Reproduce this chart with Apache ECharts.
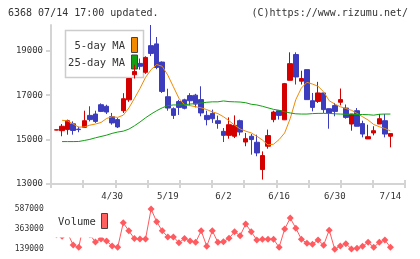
<!DOCTYPE html>
<html>
<head>
<meta charset="utf-8">
<script src="https://cdn.jsdelivr.net/npm/echarts@6/dist/echarts.min.js"></script>
<style>
html, body { margin: 0; padding: 0; background: #fff; }
#main { width: 420px; height: 259px; }
</style>
</head>
<body>
<div id="main"></div>
<script>
// trading days shown on the chart
var dates = ['4/15', '4/16', '4/17', '4/18', '4/21', '4/22', '4/23', '4/24', '4/25', '4/28',
  '4/30', '5/1', '5/2', '5/7', '5/8', '5/9', '5/12', '5/13', '5/14', '5/15',
  '5/19', '5/20', '5/21', '5/22', '5/23', '5/26', '5/27', '5/28', '5/29', '5/30',
  '6/2', '6/3', '6/4', '6/5', '6/6', '6/9', '6/10', '6/11', '6/12', '6/13',
  '6/16', '6/17', '6/18', '6/19', '6/20', '6/23', '6/24', '6/25', '6/26', '6/27',
  '6/30', '7/1', '7/2', '7/3', '7/4', '7/7', '7/8', '7/9', '7/10', '7/11',
  '7/14']
var dateLabels = ['4/30', '5/19', '6/2', '6/16', '6/30', '7/14']

var openP = [15430, 15400, 15450, 15710, 15470, 15550, 16090, 16150, 16570, 16500,
  16030, 15900, 16300, 16790, 17920, 18430, 18030, 19230, 19310, 18490,
  16930, 16390, 16710, 16790, 16980, 17000, 16800, 16090, 16180, 15850,
  15370, 15190, 15150, 15850, 14890, 15150, 14880, 13650, 14700, 15900,
  16300, 15890, 17670, 18830, 17630, 18150, 16750, 16720, 17100, 16390,
  16530, 16680, 16420, 15700, 16300, 15720, 15030, 15300, 15700, 15850,
  15150]
var closeP = [15440, 15600, 15850, 15410, 15450, 15850, 15900, 15820, 16270, 16240,
  15750, 15570, 16840, 17750, 18070, 18300, 18700, 18880, 18250, 17170,
  16420, 16090, 16450, 16410, 16750, 16600, 16200, 15900, 15940, 15730,
  15190, 15670, 15640, 15340, 15040, 15000, 14400, 14280, 15180, 16240,
  16090, 17520, 18420, 17820, 17750, 16800, 16450, 17100, 16350, 16200,
  16270, 16800, 16000, 16150, 15600, 15250, 15130, 15400, 15940, 15250,
  15270]
var lowP = [15420, 15150, 15220, 15220, 15330, 15520, 15820, 15750, 16240, 16150,
  15670, 15520, 16200, 16700, 17750, 18150, 17960, 18760, 18170, 17100,
  16300, 15930, 16110, 16360, 16510, 16450, 16050, 15640, 15750, 15490,
  14890, 15040, 15070, 15190, 14700, 14320, 14250, 13200, 14590, 15780,
  15900, 15880, 17670, 17480, 17480, 16800, 16270, 16650, 16200, 15490,
  16050, 16540, 15940, 15400, 15600, 15100, 15030, 15190, 15700, 15100,
  14650]
var highP = [15450, 15700, 15900, 15820, 15580, 16300, 16500, 16300, 16630, 16570,
  16200, 15970, 17090, 17760, 18370, 18650, 18750, 20160, 19620, 18520,
  17290, 16450, 16790, 16840, 17090, 17060, 17400, 16300, 16350, 16080,
  15520, 16000, 16090, 15900, 15300, 15250, 15220, 14470, 15450, 16300,
  16300, 17550, 18930, 18930, 18100, 18150, 17100, 17600, 17100, 16400,
  16650, 17300, 16580, 16150, 16420, 15850, 15670, 15600, 16150, 16150,
  15270]

var ma5 = [null, 15870, 15840, 15700, 15560, 15570, 15650, 15700, 15770, 15950,
  16030, 16000, 16100, 16420, 16850, 17300, 17800, 18150, 18380, 18300,
  17900, 17380, 16860, 16560, 16530, 16480, 16430, 16350, 16250, 16170,
  16030, 15850, 15650, 15480, 15380, 15300, 15150, 14980, 14760, 14790,
  15000, 15300, 15950, 16800, 17320, 17580, 17500, 17400, 17150, 16750,
  16600, 16480, 16400, 16320, 16180, 16030, 15880, 15680, 15580, 15500,
  15390]
var ma25 = [null, 14910, 14910, 14910, 14915, 14960, 15010, 15080, 15140, 15200,
  15280, 15340, 15380, 15470, 15620, 15790, 15980, 16150, 16300, 16430,
  16530, 16560, 16560, 16570, 16600, 16620, 16650, 16680, 16700, 16700,
  16740, 16710, 16700, 16690, 16660, 16590, 16560, 16500, 16430, 16360,
  16320, 16250, 16200, 16160, 16150, 16150, 16170, 16180, 16180, 16180,
  16160, 16150, 16140, 16140, 16130, 16130, 16120, 16100, 16140, 16150,
  16150]

var volume = [300000, 285000, 318000, 187000, 161000, 450000, 300000, 221000, 254000, 232000,
  176000, 161000, 433000, 344000, 258000, 254000, 254000, 587000, 445000, 344000,
  277000, 277000, 213000, 258000, 232000, 217000, 344000, 173000, 344000, 217000,
  224000, 262000, 333000, 291000, 420000, 333000, 243000, 251000, 251000, 251000,
  161000, 364000, 486000, 374000, 252000, 206000, 196000, 243000, 185000, 352000,
  139000, 176000, 201000, 142000, 151000, 173000, 217000, 161000, 217000, 243000,
  161000]

var priceTicks = [13000, 15000, 17000, 19000]
var volumeTicks = [139000, 363000, 587000]

var mono = 'DejaVu Sans Mono'
var axisGrey = '#d4d4d4'
var upColor = '#d40000'
var downColor = '#3c3cbe'

var chart = echarts.init(document.getElementById('main'), null, { renderer: 'canvas' })

var kData = []
for (var i = 0; i < dates.length; i++) {
  kData.push([openP[i], closeP[i], lowP[i], highP[i]])
}

function plain(v) {
  return String(v)
}

var option = {
  animation: false,
  backgroundColor: '#ffffff',
  grid: [
    { left: 51, right: 15, top: 25, bottom: 75 },      // frame
    { left: 53.7, right: 26.8, top: 25, bottom: 75 },  // candles
    { left: 53.7, right: 26.8, top: 209, bottom: 9.7 } // volume
  ],
  xAxis: [
    {
      gridIndex: 0, type: 'value', min: 0, max: 11, interval: 1, position: 'bottom',
      axisLine: { lineStyle: { color: axisGrey, width: 2 } },
      axisTick: { length: 4, lineStyle: { color: axisGrey, width: 2 } },
      axisLabel: { show: false }, splitLine: { show: false }
    },
    {
      gridIndex: 0, type: 'value', min: 0, max: 11, interval: 1, position: 'bottom',
      axisLine: { show: false },
      axisTick: { inside: true, length: 4, lineStyle: { color: axisGrey, width: 2 } },
      axisLabel: { show: false }, splitLine: { show: false }
    },
    {
      gridIndex: 1, type: 'category', data: dates, boundaryGap: true, position: 'bottom',
      axisLine: { show: false }, axisTick: { show: false },
      axisLabel: {
        interval: function (index, value) { return dateLabels.indexOf(value) >= 0 },
        fontFamily: mono, fontSize: 9, color: '#333', margin: 8
      },
      splitLine: { show: false }
    },
    { gridIndex: 2, type: 'category', data: dates, boundaryGap: true, show: false }
  ],
  yAxis: [
    {
      gridIndex: 0, type: 'value', min: 13000, max: 20160,
      axisLine: { show: true, lineStyle: { color: axisGrey, width: 2 } },
      axisTick: { show: true, length: 5, customValues: priceTicks, lineStyle: { color: axisGrey, width: 2 } },
      axisLabel: { customValues: priceTicks, formatter: plain, fontFamily: mono, fontSize: 9, color: '#333', margin: 8 },
      splitLine: { show: false }
    },
    { gridIndex: 1, type: 'value', min: 13000, max: 20160, show: false },
    {
      gridIndex: 2, type: 'value', min: 139000, max: 587000,
      axisLine: { show: false }, axisTick: { show: false },
      axisLabel: { customValues: volumeTicks, formatter: plain, fontFamily: mono, fontSize: 8, color: '#333', margin: 10 },
      splitLine: { show: false }
    }
  ],
  series: [
    {
      name: 'price', type: 'candlestick', xAxisIndex: 2, yAxisIndex: 1,
      data: kData, barWidth: 5, z: 3,
      itemStyle: { color: upColor, color0: downColor, borderColor: upColor, borderColor0: downColor, borderWidth: 1 }
    },
    {
      name: '5-day MA', type: 'line', xAxisIndex: 2, yAxisIndex: 1, data: ma5,
      symbol: 'none', z: 4, lineStyle: { color: '#f28a00', width: 1 }
    },
    {
      name: '25-day MA', type: 'line', xAxisIndex: 2, yAxisIndex: 1, data: ma25,
      symbol: 'none', z: 4, lineStyle: { color: '#10a010', width: 1 }
    },
    {
      name: 'Volume', type: 'line', xAxisIndex: 3, yAxisIndex: 2, data: volume,
      symbol: 'diamond', symbolSize: 7, showAllSymbol: true, z: 3,
      itemStyle: { color: '#ff5a5f' }, lineStyle: { color: '#ff5a5f', width: 1 }
    }
  ],
  graphic: [
    { type: 'text', x: 8, y: 13, z: 50, style: { text: '6368 07/14 17:00 updated.', font: '10px "DejaVu Sans Mono"', fill: '#333', textAlign: 'left', textVerticalAlign: 'middle' } },
    { type: 'text', x: 408, y: 13, z: 50, style: { text: '(C)https://www.rizumu.net/', font: '10px "DejaVu Sans Mono"', fill: '#333', textAlign: 'right', textVerticalAlign: 'middle' } },
    // price legend box
    { type: 'rect', z: 1, shape: { x: 65.5, y: 30.5, width: 78, height: 47 }, style: { fill: '#fff', stroke: '#cccccc', lineWidth: 1.5 } },
    { type: 'text', x: 125, y: 46, z: 1, style: { text: '5-day MA', font: '10.5px "DejaVu Sans Mono"', fill: '#333', textAlign: 'right', textVerticalAlign: 'middle' } },
    { type: 'text', x: 125, y: 63, z: 1, style: { text: '25-day MA', font: '10.5px "DejaVu Sans Mono"', fill: '#333', textAlign: 'right', textVerticalAlign: 'middle' } },
    { type: 'rect', z: 1, shape: { x: 131.5, y: 37.5, width: 6, height: 15 }, style: { fill: '#f28a00', stroke: '#444', lineWidth: 1 } },
    { type: 'rect', z: 1, shape: { x: 131.5, y: 55, width: 6, height: 14 }, style: { fill: '#10a010', stroke: '#444', lineWidth: 1 } },
    // volume legend box (covers the line behind it)
    { type: 'rect', z: 100, shape: { x: 52, y: 204, width: 56, height: 33.5 }, style: { fill: '#fff' } },
    { type: 'text', x: 58, y: 222, z: 101, style: { text: 'Volume', font: '10.5px "DejaVu Sans Mono"', fill: '#333', textAlign: 'left', textVerticalAlign: 'middle' } },
    { type: 'rect', z: 101, shape: { x: 101.5, y: 213.5, width: 6, height: 15 }, style: { fill: '#ff6060', stroke: '#444', lineWidth: 1 } }
  ]
}

chart.setOption(option)
</script>
</body>
</html>
